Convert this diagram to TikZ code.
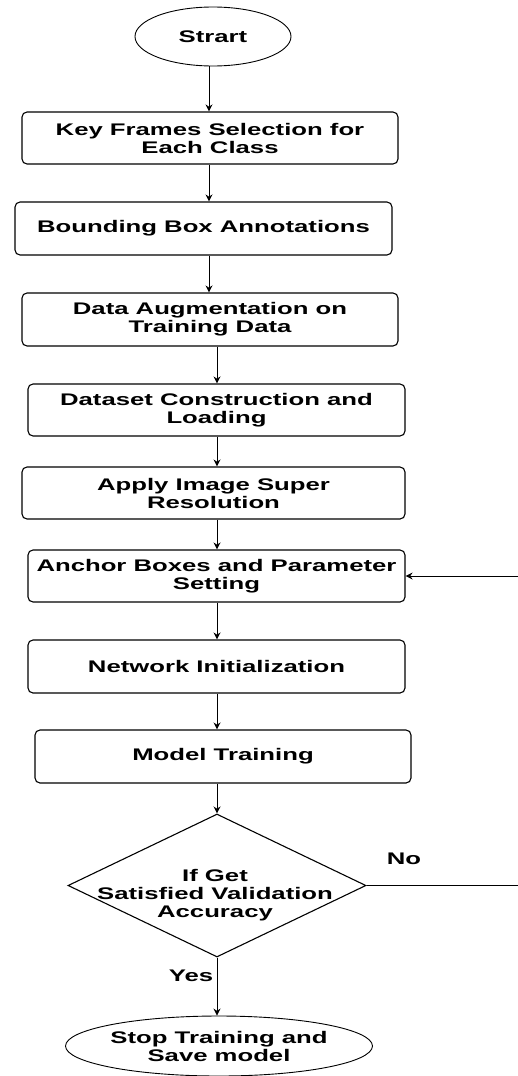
\documentclass[tikz,border=0pt]{standalone}
\usepackage{fontspec}
\newfontfamily\lab[FakeStretch=1.53]{Liberation Sans}
\usetikzlibrary{shapes.geometric,arrows.meta}
\begin{document}
\begin{tikzpicture}[x=1pt,y=-1pt,
  every node/.style={font=\lab\bfseries\fontsize{16.8}{18}\selectfont, align=center, inner sep=0pt},
  procbox/.style={draw, line width=1.1pt, rounded corners=5pt, rectangle},
  termbox/.style={draw, line width=0.9pt, ellipse},
  decbox/.style={draw, line width=1.1pt, diamond},
  arr/.style={draw, line width=0.9pt, -{Stealth[length=7pt,width=7pt]}}]
\clip (0,0) rectangle (518,1076);
\fill[white] (0,0) rectangle (518,1076);
\node[termbox, minimum width=156pt, minimum height=59pt] (start) at (213,36.5) {Strart};
\node[procbox, minimum width=376pt, minimum height=52pt] (b1) at (210,138) {Key Frames Selection for\\Each Class};
\node[procbox, minimum width=377pt, minimum height=53pt] (b2) at (203.5,228.5) {Bounding Box Annotations};
\node[procbox, minimum width=376pt, minimum height=53pt] (b3) at (210,319.5) {Data Augmentation on\\Training Data};
\node[procbox, minimum width=377pt, minimum height=52pt] (b4) at (216.5,410) {Dataset Construction and\\Loading};
\node[procbox, minimum width=383pt, minimum height=52pt] (b5) at (213.5,493) {Apply Image Super\\Resolution};
\node[procbox, minimum width=377pt, minimum height=52pt] (b6) at (216.5,576) {Anchor Boxes and Parameter\\Setting};
\node[procbox, minimum width=377pt, minimum height=53pt] (b7) at (216.5,666.5) {Network Initialization};
\node[procbox, minimum width=376pt, minimum height=53pt] (b8) at (223,756.5) {Model Training};
\node[decbox, minimum width=298pt, minimum height=143pt, aspect=2.08] (dia) at (217,885.5) {};
\node (diat) at (215,895) {If Get\\Satisfied Validation\\Accuracy};
\node[termbox, minimum width=288pt, minimum height=60pt] (stop) at (219,1046) {Stop Training and\\Save model};
\node (no) at (404,859) {No};
\node (yes) at (191,976) {Yes};
\coordinate (colA) at (209,0);
\coordinate (colB) at (217,0);
\coordinate (rt) at (540,0);
\draw[arr] (start.south -| colA) -- (b1.north -| colA);
\draw[arr] (b1.south -| colA) -- (b2.north -| colA);
\draw[arr] (b2.south -| colA) -- (b3.north -| colA);
\draw[arr] (b3.south -| colB) -- (b4.north -| colB);
\draw[arr] (b4.south -| colB) -- (b5.north -| colB);
\draw[arr] (b5.south -| colB) -- (b6.north -| colB);
\draw[arr] (b6.south -| colB) -- (b7.north -| colB);
\draw[arr] (b7.south -| colB) -- (b8.north -| colB);
\draw[arr] (b8.south -| colB) -- (dia.north);
\draw[arr] (dia.south) -- (stop.north -| dia.south);
\draw[arr] (dia.east) -- (dia.east -| rt) -- (b6.east -| rt) -- (b6.east);
\end{tikzpicture}
\end{document}
